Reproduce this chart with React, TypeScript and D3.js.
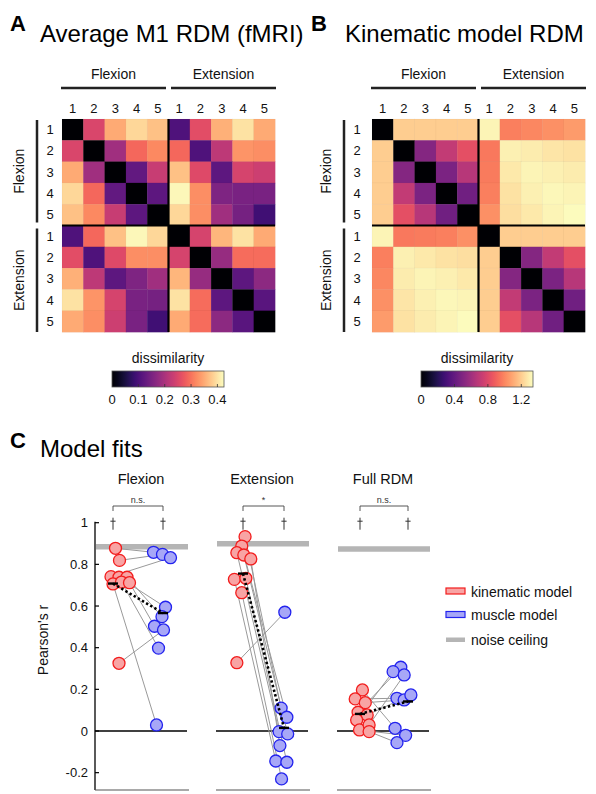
import React from 'react';
import * as d3 from 'd3';

const FONT = '"Liberation Sans", Arial, Helvetica, sans-serif';

// ---------- Data ----------
const groupNames = ['Flexion', 'Extension'];
const digitLabels = ['1', '2', '3', '4', '5'];

// Average M1 RDM (fMRI), rows/cols: F1..F5, E1..E5
const m1Rdm: number[][] = [
  [0, 0.25, 0.35, 0.39, 0.37, 0.105, 0.26, 0.355, 0.4, 0.35],
  [0.25, 0, 0.19, 0.29, 0.32, 0.29, 0.105, 0.22, 0.33, 0.325],
  [0.35, 0.19, 0, 0.125, 0.23, 0.37, 0.255, 0.12, 0.245, 0.235],
  [0.39, 0.29, 0.125, 0, 0.12, 0.42, 0.325, 0.155, 0.15, 0.15],
  [0.37, 0.32, 0.23, 0.12, 0, 0.39, 0.325, 0.19, 0.145, 0.09],
  [0.105, 0.29, 0.37, 0.42, 0.39, 0, 0.245, 0.36, 0.4, 0.35],
  [0.26, 0.105, 0.255, 0.325, 0.325, 0.245, 0, 0.18, 0.295, 0.295],
  [0.355, 0.22, 0.12, 0.155, 0.19, 0.36, 0.18, 0, 0.12, 0.17],
  [0.4, 0.33, 0.245, 0.15, 0.145, 0.4, 0.295, 0.12, 0, 0.115],
  [0.35, 0.325, 0.235, 0.15, 0.09, 0.35, 0.295, 0.17, 0.115, 0],
];

// Kinematic model RDM
const kinRdm: number[][] = [
  [0, 1.2, 1.2, 1.2, 1.2, 1.31, 0.98, 1.0, 1.03, 1.06],
  [1.2, 0, 0.51, 0.71, 0.83, 0.96, 1.3, 1.29, 1.27, 1.26],
  [1.2, 0.51, 0, 0.48, 0.67, 0.97, 1.28, 1.31, 1.3, 1.29],
  [1.2, 0.71, 0.48, 0, 0.44, 0.98, 1.26, 1.3, 1.32, 1.31],
  [1.2, 0.83, 0.67, 0.44, 0, 1.03, 1.25, 1.28, 1.31, 1.33],
  [1.31, 0.96, 0.97, 0.98, 1.03, 0, 1.2, 1.2, 1.2, 1.2],
  [0.98, 1.3, 1.28, 1.26, 1.25, 1.2, 0, 0.51, 0.71, 0.83],
  [1.0, 1.29, 1.31, 1.3, 1.28, 1.2, 0.51, 0, 0.48, 0.67],
  [1.03, 1.27, 1.3, 1.32, 1.31, 1.2, 0.71, 0.48, 0, 0.44],
  [1.06, 1.26, 1.29, 1.31, 1.33, 1.2, 0.83, 0.67, 0.44, 0],
];

const m1ColorMax = 0.425;
const kinColorMax = 1.34;
const m1ColorTicks = [0, 0.1, 0.2, 0.3, 0.4];
const kinColorTicks = [0, 0.4, 0.8, 1.2];

// Model fits (Pearson's r), per subject
const fitTitles = ['Flexion', 'Extension', 'Full RDM'];
const fitSignif = ['n.s.', '*', 'n.s.'];
const noiseCeiling = [0.885, 0.899, 0.874];

const flexKin = [0.877, 0.819, 0.741, 0.738, 0.738, 0.706, 0.715, 0.712, 0.325];
const flexMus = [0.858, 0.848, 0.832, 0.594, 0.549, 0.029, 0.398, 0.503, 0.485];
const flexKinJit = [0.05, 0.13, -0.04, 0.12, 0.28, 0.0, 0.17, 0.33, 0.12];
const flexMusJit = [-0.19, -0.01, 0.15, 0.05, -0.02, -0.13, -0.09, -0.17, 0.01];

const extKin = [0.933, 0.888, 0.856, 0.845, 0.826, 0.728, 0.733, 0.664, 0.328];
const extMus = [0.11, 0.066, -0.003, -0.014, -0.07, -0.144, -0.15, -0.23, 0.57];
const extKinJit = [0.05, -0.03, -0.15, 0.02, 0.19, -0.21, 0.07, -0.03, -0.15];
const extMusJit = [-0.07, 0.07, -0.12, 0.09, -0.1, -0.2, 0.07, -0.06, 0.02];

const fullKin = [0.197, 0.154, 0.136, 0.09, 0.077, 0.053, 0.005, 0.029, -0.003];
const fullMus = [0.013, 0.157, 0.149, 0.306, 0.173, 0.285, -0.021, 0.269, -0.056];
const fullKinJit = [0.05, -0.1, 0.11, -0.04, 0.15, -0.07, -0.01, 0.19, 0.19];
const fullMusJit = [-0.27, -0.23, -0.08, -0.15, 0.06, -0.31, -0.05, -0.08, -0.23];

const yTicks = [-0.2, 0, 0.2, 0.4, 0.6, 0.8, 1];
const yTickLabels = ['-0.2', '0', '0.2', '0.4', '0.6', '0.8', '1'];
const legendItems = ['kinematic model', 'muscle model', 'noise ceiling'];

// ---------- Components ----------
type HeatProps = {
  x0: number; y0: number; matrix: number[][]; max: number;
  rowNumX: number; bracketX: number; groupTextX: number;
};

function Heatmap({ x0, y0, matrix, max, rowNumX, bracketX, groupTextX }: HeatProps) {
  const n = matrix.length;
  const size = 213;
  const idx = d3.range(n);
  const xs = d3.scaleBand<number>().domain(idx).range([x0, x0 + size]);
  const ys = d3.scaleBand<number>().domain(idx).range([y0, y0 + size]);
  const bw = xs.bandwidth();
  const color = d3.scaleSequential(d3.interpolateMagma).domain([0, max]);
  const half = size / 2;
  const labels = [...digitLabels, ...digitLabels];
  return (
    <g>
      {matrix.map((row, i) =>
        row.map((v, j) => (
          <rect key={`${i}-${j}`} x={xs(j)!} y={ys(i)!} width={bw + 0.3} height={bw + 0.3}
            fill={color(v)} stroke="rgba(0,0,0,0.04)" strokeWidth={0.6} />
        ))
      )}
      <line x1={x0 + half} x2={x0 + half} y1={y0} y2={y0 + size} stroke="#000" strokeWidth={2.2} />
      <line x1={x0} x2={x0 + size} y1={y0 + half} y2={y0 + half} stroke="#000" strokeWidth={2.2} />
      {labels.map((l, j) => (
        <text key={`c${j}`} x={xs(j)! + bw / 2} y={y0 - 6} fontSize={13} textAnchor="middle" fill="#111">{l}</text>
      ))}
      {labels.map((l, i) => (
        <text key={`r${i}`} x={rowNumX} y={ys(i)! + bw / 2 + 4.5} fontSize={13} textAnchor="middle" fill="#111">{l}</text>
      ))}
      {groupNames.map((g, k) => {
        const a = x0 + k * half + (k === 0 ? -1 : 2.5);
        const b = x0 + (k + 1) * half + (k === 0 ? -2.5 : 1);
        return (
          <g key={`cg${k}`}>
            <line x1={a} x2={b} y1={88} y2={88} stroke="#222" strokeWidth={2.5} />
            <text x={(a + b) / 2} y={79} fontSize={14} textAnchor="middle" fill="#111">{g}</text>
          </g>
        );
      })}
      {groupNames.map((g, k) => {
        const a = y0 + k * half + (k === 0 ? 1 : 3);
        const b = y0 + (k + 1) * half + (k === 0 ? -3 : 0);
        return (
          <g key={`rg${k}`}>
            <line x1={bracketX} x2={bracketX} y1={a} y2={b} stroke="#222" strokeWidth={2.5} />
            <text transform={`translate(${groupTextX},${(a + b) / 2}) rotate(-90)`} fontSize={14}
              textAnchor="middle" dy={5} fill="#111">{g}</text>
          </g>
        );
      })}
    </g>
  );
}

function ColorBar({ x0, width, max, ticks, id }: { x0: number; width: number; max: number; ticks: number[]; id: string }) {
  const y0 = 371;
  const h = 16;
  const sx = d3.scaleLinear().domain([0, max]).range([x0, x0 + width]);
  const stops = d3.range(0, 1.0001, 0.05);
  return (
    <g>
      <defs>
        <linearGradient id={id} x1="0" x2="1" y1="0" y2="0">
          {stops.map((t) => (
            <stop key={t} offset={`${t * 100}%`} stopColor={d3.interpolateMagma(t)} />
          ))}
        </linearGradient>
      </defs>
      <text x={x0 + width / 2} y={363} fontSize={14} textAnchor="middle" fill="#111">dissimilarity</text>
      <rect x={x0} y={y0} width={width} height={h} fill={`url(#${id})`} stroke="#555" strokeWidth={0.8} />
      {ticks.filter((t) => t > 0).map((t) => (
        <line key={t} x1={sx(t)} x2={sx(t)} y1={y0 + h} y2={y0 + h - 3} stroke="#333" strokeWidth={0.8} />
      ))}
      {ticks.map((t) => (
        <text key={`l${t}`} x={sx(t)} y={404} fontSize={13} textAnchor="middle" fill="#111">
          {t === 0 ? '0' : t.toFixed(1)}
        </text>
      ))}
    </g>
  );
}

const RED = '#f21d1d';
const RED_FILL = '#f8a4a4';
const BLUE = '#2323ee';
const BLUE_FILL = '#a7a7f7';
const CEIL = '#b5b5b5';

function Dagger({ x, y }: { x: number; y: number }) {
  return (
    <g stroke="#333" strokeWidth={1}>
      <line x1={x} x2={x} y1={y - 6} y2={y + 6} />
      <line x1={x - 2.6} x2={x + 2.6} y1={y - 2.5} y2={y - 2.5} />
    </g>
  );
}

function FitPanel({ left, right, kinX, musX, title, sig, ceil, kin, mus, kinJit, musJit, y }: any) {
  const sx = d3.scaleLinear().domain([0, 1]).range([kinX, musX]);
  const kinMean = d3.mean(kin as number[])!;
  const musMean = d3.mean(mus as number[])!;
  const r = 6;
  return (
    <g>
      <text x={(left + right) / 2} y={484} fontSize={14.5} textAnchor="middle" fill="#111">{title}</text>
      <path d={`M${kinX},${511} V${506} H${musX} V${511}`} fill="none" stroke="#444" strokeWidth={0.9} />
      <text x={(kinX + musX) / 2} y={503} fontSize={9} textAnchor="middle" fill="#333">{sig}</text>
      <Dagger x={kinX} y={y(1) + 1} />
      <Dagger x={musX} y={y(1) + 1} />
      <line x1={left + 1} x2={right + 1} y1={y(ceil)} y2={y(ceil)} stroke={CEIL} strokeWidth={5.5} />
      <line x1={left} x2={right} y1={y(0)} y2={y(0)} stroke="#000" strokeWidth={1.6} />
      <line x1={left} x2={right + 2} y1={790} y2={790} stroke="#555" strokeWidth={1.2} />
      {(kin as number[]).map((v, i) => (
        <line key={`s${i}`} x1={sx(kinJit[i])} y1={y(v)} x2={sx(1 + musJit[i])} y2={y(mus[i])}
          stroke="#9a9a9a" strokeWidth={1} />
      ))}
      {(kin as number[]).map((v, i) => (
        <circle key={`k${i}`} cx={sx(kinJit[i])} cy={y(v)} r={r} fill={RED_FILL} stroke={RED} strokeWidth={1.3} />
      ))}
      {(mus as number[]).map((v, i) => (
        <circle key={`m${i}`} cx={sx(1 + musJit[i])} cy={y(v)} r={r} fill={BLUE_FILL} stroke={BLUE} strokeWidth={1.3} />
      ))}
      <line x1={sx(0)} y1={y(kinMean)} x2={sx(1)} y2={y(musMean)} stroke="#000" strokeWidth={2.6} strokeDasharray="2.4,2.4" />
      <line x1={sx(0) - 5} x2={sx(0) + 5} y1={y(kinMean)} y2={y(kinMean)} stroke="#000" strokeWidth={2.4} />
      <line x1={sx(1) - 5} x2={sx(1) + 5} y1={y(musMean)} y2={y(musMean)} stroke="#000" strokeWidth={2.4} />
    </g>
  );
}

export default function App() {
  const y = d3.scaleLinear().domain([0, 1]).range([731, 522.7]);
  const panels = [
    { left: 95, right: 187, kinX: 113, musX: 163, kin: flexKin, mus: flexMus, kinJit: flexKinJit, musJit: flexMusJit },
    { left: 216, right: 308, kinX: 243, musX: 284, kin: extKin, mus: extMus, kinJit: extKinJit, musJit: extMusJit },
    { left: 337, right: 429, kinX: 360, musX: 408, kin: fullKin, mus: fullMus, kinJit: fullKinJit, musJit: fullMusJit },
  ];
  return (
    <svg width={596} height={794} style={{ position: 'absolute', left: 0, top: 0 }} fontFamily={FONT}>
      <rect width={596} height={794} fill="#fff" />
      <text x={10} y={31} fontSize={22} fontWeight="bold" fill="#000">A</text>
      <text x={40} y={42} fontSize={24} fill="#000">Average M1 RDM (fMRI)</text>
      <text x={311} y={31} fontSize={22} fontWeight="bold" fill="#000">B</text>
      <text x={345} y={42} fontSize={24} fill="#000">Kinematic model RDM</text>

      <Heatmap x0={62} y0={119} matrix={m1Rdm} max={m1ColorMax} rowNumX={50} bracketX={37} groupTextX={19} />
      <Heatmap x0={372} y0={119} matrix={kinRdm} max={kinColorMax} rowNumX={357} bracketX={344} groupTextX={326} />

      <ColorBar x0={112} width={112} max={m1ColorMax} ticks={m1ColorTicks} id="cbA" />
      <ColorBar x0={421} width={112} max={kinColorMax} ticks={kinColorTicks} id="cbB" />

      <text x={10} y={448} fontSize={22} fontWeight="bold" fill="#000">C</text>
      <text x={40} y={457} fontSize={24} fill="#000">Model fits</text>

      <line x1={95} x2={95} y1={y(1) - 1} y2={790} stroke="#000" strokeWidth={1.3} />
      {yTicks.map((t, i) => (
        <g key={t}>
          <line x1={95} x2={99} y1={y(t)} y2={y(t)} stroke="#000" strokeWidth={1.2} />
          <text x={88} y={y(t) + 4.5} fontSize={13} textAnchor="end" fill="#111">{yTickLabels[i]}</text>
        </g>
      ))}
      <text transform={`translate(48,640) rotate(-90)`} fontSize={14} textAnchor="middle" fill="#111">Pearson's r</text>

      {panels.map((p, i) => (
        <FitPanel key={i} {...p} title={fitTitles[i]} sig={fitSignif[i]} ceil={noiseCeiling[i]} y={y} />
      ))}

      <g>
        <rect x={446} y={588} width={19} height={6} fill={RED_FILL} stroke={RED} strokeWidth={1.2} />
        <text x={471} y={596.5} fontSize={14} fill="#111">{legendItems[0]}</text>
        <rect x={446} y={611.5} width={19} height={6} fill={BLUE_FILL} stroke={BLUE} strokeWidth={1.2} />
        <text x={471} y={620} fontSize={14} fill="#111">{legendItems[1]}</text>
        <rect x={446} y={637.5} width={19} height={4.5} fill={CEIL} />
        <text x={471} y={645} fontSize={14} fill="#111">{legendItems[2]}</text>
      </g>
    </svg>
  );
}
